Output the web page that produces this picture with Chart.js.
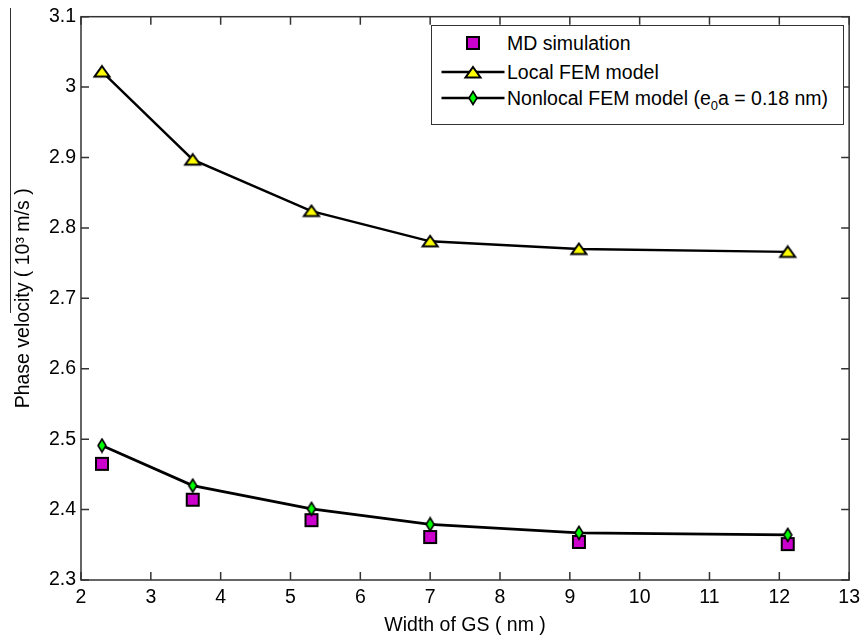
<!DOCTYPE html>
<html><head><meta charset="utf-8">
<script src="https://cdn.jsdelivr.net/npm/chart.js@4"></script>
<style>
html,body{margin:0;padding:0;background:#fff;}
#wrap{position:relative;width:866px;height:640px;overflow:hidden;}
#c{position:absolute;left:0;top:0;}
#legend{position:absolute;left:431px;top:25px;width:411px;height:98px;border:1.5px solid #333;background:#fff;font-family:'Liberation Sans',Arial,sans-serif;font-size:19.5px;color:#000;}
.row{position:absolute;left:0;width:405px;height:24px;}
.row canvas{position:absolute;left:0;top:0;}
.row span{position:absolute;left:75px;top:0;white-space:nowrap;line-height:24px;}
.row sub{font-size:13px;vertical-align:-5px;line-height:0;}
#artifact{position:absolute;left:10px;top:8px;width:1px;height:305px;background:#333;}
</style></head>
<body>
<div id="wrap">
<canvas id="c" width="866" height="640"></canvas>
<div id="artifact"></div>
<div id="legend">
  <div class="row" style="top:4.5px"><canvas id="lg0" width="75" height="24"></canvas><span>MD simulation</span></div>
  <div class="row" style="top:33.5px"><canvas id="lg1" width="75" height="24"></canvas><span>Local FEM model</span></div>
  <div class="row" style="top:59.5px"><canvas id="lg2" width="75" height="24"></canvas><span>Nonlocal FEM model (e<sub>0</sub>a = 0.18 nm)</span></div>
</div>
</div>
<script>
// ---- data ----
const widths = [2.3, 3.6, 5.3, 7.0, 9.13, 12.12];
const mdSimulation = [2.465, 2.414, 2.385, 2.361, 2.354, 2.351];
const localFEM = [3.022, 2.897, 2.824, 2.781, 2.770, 2.766];
const nonlocalFEM = [2.491, 2.434, 2.401, 2.379, 2.367, 2.364];
const xTicks = [2, 3, 4, 5, 6, 7, 8, 9, 10, 11, 12, 13];
const yTicks = [2.3, 2.4, 2.5, 2.6, 2.7, 2.8, 2.9, 3.0, 3.1];
const yTickLabels = ['2.3', '2.4', '2.5', '2.6', '2.7', '2.8', '2.9', '3', '3.1'];
const seriesNames = ['MD simulation', 'Local FEM model', 'Nonlocal FEM model (e0a = 0.18 nm)'];

// ---- marker images ----
function makeSquare() {
  const c = document.createElement('canvas'); c.width = 16; c.height = 16;
  const g = c.getContext('2d');
  g.fillStyle = '#cc00cc'; g.strokeStyle = '#000'; g.lineWidth = 2;
  g.fillRect(2, 2, 12, 12); g.strokeRect(2, 2, 12, 12);
  return c;
}
function makeTriangle() {
  const c = document.createElement('canvas'); c.width = 20; c.height = 15;
  const g = c.getContext('2d');
  g.beginPath(); g.moveTo(10, 2); g.lineTo(17.5, 12.5); g.lineTo(2.5, 12.5); g.closePath();
  g.fillStyle = '#ffff00'; g.fill(); g.strokeStyle = '#000'; g.lineWidth = 2; g.lineJoin = 'miter'; g.stroke();
  return c;
}
function makeDiamond() {
  const c = document.createElement('canvas'); c.width = 12; c.height = 16;
  const g = c.getContext('2d');
  g.beginPath(); g.moveTo(6, 1.5); g.lineTo(10, 8); g.lineTo(6, 14.5); g.lineTo(2, 8); g.closePath();
  g.fillStyle = '#00ff00'; g.fill(); g.strokeStyle = '#000'; g.lineWidth = 1.6; g.stroke();
  return c;
}
const sq = makeSquare(), tri = makeTriangle(), dia = makeDiamond();

// legend symbols
function legendSymbol(id, img, withLine) {
  const g = document.getElementById(id).getContext('2d');
  if (withLine) { g.strokeStyle = '#000'; g.lineWidth = 2.5; g.beginPath(); g.moveTo(9.5, 12); g.lineTo(72.5, 12); g.stroke(); }
  g.drawImage(img, Math.round(40.5 - img.width / 2), Math.round(12 - img.height / 2));
}
legendSymbol('lg0', sq, false);
legendSymbol('lg1', tri, true);
legendSymbol('lg2', dia, true);

const FONT = "'Liberation Sans', Arial, sans-serif";
const frame = {
  id: 'frame',
  afterDraw(chart) {
    const {ctx, chartArea: a, scales: {x, y}} = chart;
    ctx.save();
    ctx.strokeStyle = '#333'; ctx.lineWidth = 1.5;
    ctx.strokeRect(a.left, a.top, a.right - a.left, a.bottom - a.top);
    ctx.beginPath();
    xTicks.forEach(v => {
      const px = x.getPixelForValue(v);
      ctx.moveTo(px, a.bottom); ctx.lineTo(px, a.bottom - 8);
      ctx.moveTo(px, a.top); ctx.lineTo(px, a.top + 8);
    });
    yTicks.forEach(v => {
      const py = y.getPixelForValue(v);
      ctx.moveTo(a.left, py); ctx.lineTo(a.left + 8, py);
      ctx.moveTo(a.right, py); ctx.lineTo(a.right - 8, py);
    });
    ctx.stroke();
    ctx.restore();
  }
};

const toPts = ys => widths.map((w, i) => ({x: w, y: ys[i]}));

new Chart(document.getElementById('c'), {
  type: 'line',
  data: {
    datasets: [
      {label: seriesNames[0], data: toPts(mdSimulation), showLine: false, pointStyle: sq, pointRadius: 7, order: 3},
      {label: seriesNames[1], data: toPts(localFEM), borderColor: '#000', borderWidth: 2.4, pointStyle: tri, pointRadius: 7, tension: 0, order: 2},
      {label: seriesNames[2], data: toPts(nonlocalFEM), borderColor: '#000', borderWidth: 2.8, pointStyle: dia, pointRadius: 7, tension: 0, order: 1}
    ]
  },
  options: {
    responsive: false, animation: false, devicePixelRatio: 1,
    layout: {padding: {top: 15, right: 14, left: 0, bottom: 0}},
    plugins: {legend: {display: false}, tooltip: {enabled: false}},
    scales: {
      x: {
        type: 'linear', min: 2, max: 13,
        afterFit(s) { s.height = 60; },
        afterBuildTicks(s) { s.ticks = xTicks.map(v => ({value: v})); },
        grid: {display: false, drawTicks: false},
        border: {display: false},
        ticks: {padding: 6, color: '#000', font: {family: FONT, size: 19.5}, maxRotation: 0, autoSkip: false,
                callback: v => String(v)},
        title: {display: true, text: 'Width of GS ( nm )', color: '#000', font: {family: FONT, size: 19.5}, padding: {top: 0, bottom: 3}}
      },
      y: {
        type: 'linear', min: 2.3, max: 3.1,
        afterFit(s) { s.width = 81; },
        afterBuildTicks(s) { s.ticks = yTicks.map(v => ({value: v})); },
        grid: {display: false, drawTicks: false},
        border: {display: false},
        ticks: {padding: 5, color: '#000', font: {family: FONT, size: 19.5}, autoSkip: false,
                callback: (v, i) => yTickLabels[i]},
        title: {display: true, text: 'Phase velocity ( 10³ m/s )', color: '#000', font: {family: FONT, size: 19.5}, padding: {top: 12, bottom: 0}}
      }
    }
  },
  plugins: [frame]
});
</script>
</body></html>
